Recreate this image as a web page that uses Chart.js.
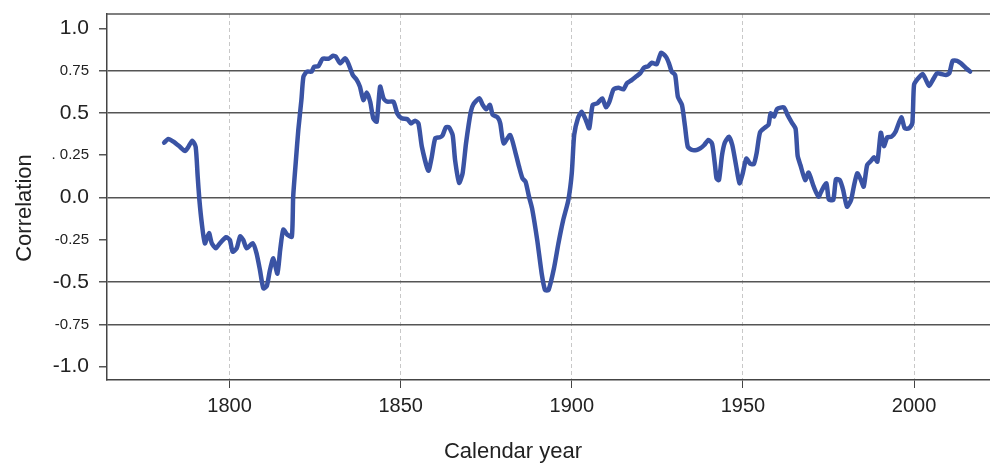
<!DOCTYPE html>
<html lang="en">
<head>
    <meta charset="UTF-8">
    <title>Correlation by calendar year</title>
    <style>
        html, body { margin: 0; padding: 0; background: #fff; }
        #wrap { width: 990px; height: 464px; position: relative; }
    </style>
    <script src="https://cdn.jsdelivr.net/npm/chart.js"></script>
</head>
<body>
<div id="wrap"><canvas id="corrChart"></canvas></div>
<script>
    // values
    const years = [
        1780.9, 1782.1, 1783.6, 1785.5, 1787.0, 1788.0, 1789.1, 1790.1, 1790.7, 1791.2,
        1791.9, 1792.8, 1794.0, 1794.8, 1796.0, 1797.2, 1799.0, 1800.1, 1800.9, 1802.1,
        1803.1, 1804.0, 1805.0, 1806.8, 1807.9, 1808.9, 1809.9, 1810.9, 1811.8, 1812.8,
        1814.0, 1814.8, 1815.7, 1816.9, 1818.2, 1818.6, 1819.4, 1820.1, 1821.0, 1821.6,
        1822.6, 1824.0, 1824.7, 1826.0, 1827.2, 1828.9, 1830.3, 1831.1, 1832.3, 1833.8,
        1834.7, 1836.0, 1837.2, 1838.1, 1839.1, 1840.1, 1841.1, 1842.0, 1843.0, 1844.0,
        1845.0, 1846.1, 1847.9, 1849.0, 1850.3, 1852.0, 1853.0, 1854.2, 1855.2, 1856.2,
        1858.1, 1859.1, 1860.1, 1861.5, 1862.3, 1863.2, 1864.1, 1865.2, 1865.9, 1867.1,
        1868.1, 1869.1, 1870.5, 1871.3, 1873.0, 1874.0, 1875.0, 1876.1, 1876.9, 1878.3,
        1879.1, 1880.1, 1882.0, 1883.6, 1884.6, 1885.6, 1886.5, 1887.5, 1888.4, 1889.9,
        1891.2, 1892.2, 1893.2, 1894.8, 1896.1, 1897.5, 1899.0, 1900.0, 1900.7, 1901.8,
        1902.9, 1904.1, 1905.1, 1906.1, 1907.5, 1908.9, 1910.0, 1911.0, 1912.2, 1913.6,
        1915.1, 1916.1, 1917.5, 1919.0, 1920.0, 1921.1, 1922.4, 1923.4, 1924.8, 1926.1,
        1927.5, 1928.4, 1929.2, 1930.2, 1931.0, 1932.2, 1933.1, 1933.9, 1935.1, 1936.5,
        1937.5, 1938.7, 1939.9, 1941.0, 1941.9, 1942.3, 1943.0, 1943.9, 1944.7, 1945.9,
        1946.9, 1948.0, 1949.0, 1949.9, 1951.0, 1952.1, 1953.2, 1954.0, 1955.0, 1956.5,
        1957.5, 1958.1, 1959.1, 1960.0, 1962.0, 1963.0, 1964.3, 1965.4, 1966.0, 1966.8,
        1968.2, 1969.2, 1970.7, 1972.1, 1973.1, 1974.4, 1975.1, 1976.4, 1977.2, 1978.3,
        1979.3, 1980.4, 1981.6, 1982.4, 1983.4, 1984.4, 1985.3, 1986.3, 1987.5, 1988.3,
        1989.3, 1990.3, 1991.2, 1992.2, 1993.4, 1994.6, 1996.3, 1997.3, 1998.5, 1999.5,
        2000.0, 2001.0, 2002.5, 2003.4, 2004.4, 2005.6, 2006.7, 2008.0, 2009.3, 2010.3,
        2011.3, 2012.6, 2013.7, 2015.2, 2016.4
    ];
    const correlation = [
        0.324, 0.346, 0.330, 0.300, 0.275, 0.300, 0.336, 0.300, 0.123, -0.015,
        -0.153, -0.271, -0.210, -0.270, -0.300, -0.270, -0.235, -0.251, -0.320, -0.300,
        -0.230, -0.250, -0.300, -0.270, -0.330, -0.430, -0.537, -0.523, -0.430, -0.360,
        -0.450, -0.310, -0.190, -0.220, -0.232, 0.005, 0.220, 0.400, 0.576, 0.714,
        0.744, 0.744, 0.773, 0.777, 0.820, 0.820, 0.838, 0.832, 0.793, 0.823,
        0.793, 0.724, 0.694, 0.655, 0.576, 0.620, 0.566, 0.468, 0.448, 0.655,
        0.586, 0.566, 0.566, 0.497, 0.468, 0.462, 0.438, 0.454, 0.438, 0.300,
        0.158, 0.241, 0.350, 0.356, 0.369, 0.415, 0.415, 0.369, 0.222, 0.087,
        0.143, 0.320, 0.507, 0.553, 0.586, 0.547, 0.521, 0.547, 0.488, 0.474,
        0.438, 0.320, 0.369, 0.261, 0.182, 0.113, 0.093, 0.005, -0.064, -0.251,
        -0.448, -0.547, -0.547, -0.418, -0.271, -0.133, -0.015, 0.143, 0.369, 0.468,
        0.507, 0.458, 0.409, 0.547, 0.557, 0.586, 0.533, 0.566, 0.639, 0.649,
        0.639, 0.675, 0.694, 0.718, 0.734, 0.767, 0.777, 0.797, 0.787, 0.856,
        0.832, 0.793, 0.744, 0.724, 0.596, 0.547, 0.418, 0.300, 0.281, 0.281,
        0.290, 0.310, 0.340, 0.318, 0.182, 0.113, 0.103, 0.250, 0.324, 0.359,
        0.310, 0.190, 0.084, 0.138, 0.230, 0.200, 0.198, 0.261, 0.385, 0.414,
        0.430, 0.497, 0.478, 0.524, 0.532, 0.490, 0.443, 0.406, 0.246, 0.192,
        0.103, 0.147, 0.064, 0.005, 0.044, 0.084, -0.011, -0.015, 0.108, 0.103,
        0.044, -0.054, -0.015, 0.064, 0.143, 0.108, 0.064, 0.192, 0.218, 0.238,
        0.212, 0.383, 0.304, 0.356, 0.359, 0.389, 0.474, 0.409, 0.409, 0.438,
        0.665, 0.699, 0.730, 0.699, 0.659, 0.699, 0.734, 0.730, 0.724, 0.734,
        0.808, 0.808, 0.793, 0.764, 0.744
    ];
    const yTicks = [1.0, 0.75, 0.5, 0.25, 0.0, -0.25, -0.5, -0.75, -1.0];
    const yTickLabels = ['1.0', '0.75', '0.5', '. 0.25', '0.0', '-0.25', '-0.5', '-0.75', '-1.0'];
    const yGridAt = [0.75, 0.5, 0.0, -0.5, -0.75];
    const xTicks = [1800, 1850, 1900, 1950, 2000];

    const FONT = '"Liberation Sans", Arial, sans-serif';
    const INK = '#222';

    // titles and top border drawn by hand so they can sit where the reference has them
    const frame = {
        id: 'frame',
        afterDraw(chart) {
            const c = chart.ctx, a = chart.chartArea;
            c.save();
            c.strokeStyle = '#555';
            c.lineWidth = 1.5;
            c.beginPath();
            c.moveTo(a.left, a.top);
            c.lineTo(a.right, a.top);
            c.stroke();
            c.fillStyle = INK;
            c.font = '22px ' + FONT;
            c.textAlign = 'center';
            c.textBaseline = 'middle';
            c.fillText('Calendar year', 513, 452);
            c.translate(25, 208);
            c.rotate(-Math.PI / 2);
            c.fillText('Correlation', 0, 0);
            c.restore();
        }
    };

    new Chart(document.getElementById('corrChart'), {
        type: 'line',
        data: {
            datasets: [{
                data: years.map((yr, i) => ({ x: yr, y: correlation[i] })),
                borderColor: '#3a53a4',
                borderWidth: 4.5,
                pointRadius: 0,
                tension: 0.2,
                borderCapStyle: 'round',
                borderJoinStyle: 'round'
            }]
        },
        options: {
            responsive: true,
            maintainAspectRatio: false,
            animation: false,
            layout: { padding: { top: 14, right: 0, left: 0, bottom: 0 } },
            plugins: { legend: { display: false }, tooltip: { enabled: false } },
            scales: {
                x: {
                    type: 'linear',
                    min: 1764.2,
                    max: 2022.2,
                    afterFit: s => { s.height = 84; s.paddingLeft = 0; s.paddingRight = 0; },
                    afterBuildTicks: s => { s.ticks = xTicks.map(v => ({ value: v })); },
                    grid: { color: '#c8c8c8', lineWidth: 1, tickColor: '#444', tickLength: 8, tickBorderDash: [] },
                    border: { display: true, color: '#444', width: 1.5, dash: [4, 3] },
                    ticks: {
                        color: INK,
                        font: { family: FONT, size: 20 },
                        padding: 6,
                        maxRotation: 0,
                        callback: v => String(v)
                    }
                },
                y: {
                    min: -1.0786,
                    max: 1.0845,
                    afterFit: s => { s.width = 107; s.paddingTop = 0; s.paddingBottom = 0; },
                    afterBuildTicks: s => { s.ticks = yTicks.map(v => ({ value: v })); },
                    grid: {
                        color: ctx => yGridAt.some(g => Math.abs(g - ctx.tick.value) < 1e-6) ? '#555' : 'rgba(0,0,0,0)',
                        lineWidth: 1.5,
                        tickColor: '#555',
                        tickLength: 8
                    },
                    border: { display: true, color: '#444', width: 1.5 },
                    ticks: {
                        color: INK,
                        padding: 10,
                        font: ctx => {
                            const v = ctx.tick ? ctx.tick.value : 0;
                            const big = Math.abs(v * 2 - Math.round(v * 2)) < 1e-6;
                            return { family: FONT, size: big ? 21 : 15 };
                        },
                        callback: v => {
                            const i = yTicks.findIndex(t => Math.abs(t - v) < 1e-6);
                            return i >= 0 ? yTickLabels[i] : '';
                        }
                    }
                }
            }
        },
        plugins: [frame]
    });
</script>
</body>
</html>
